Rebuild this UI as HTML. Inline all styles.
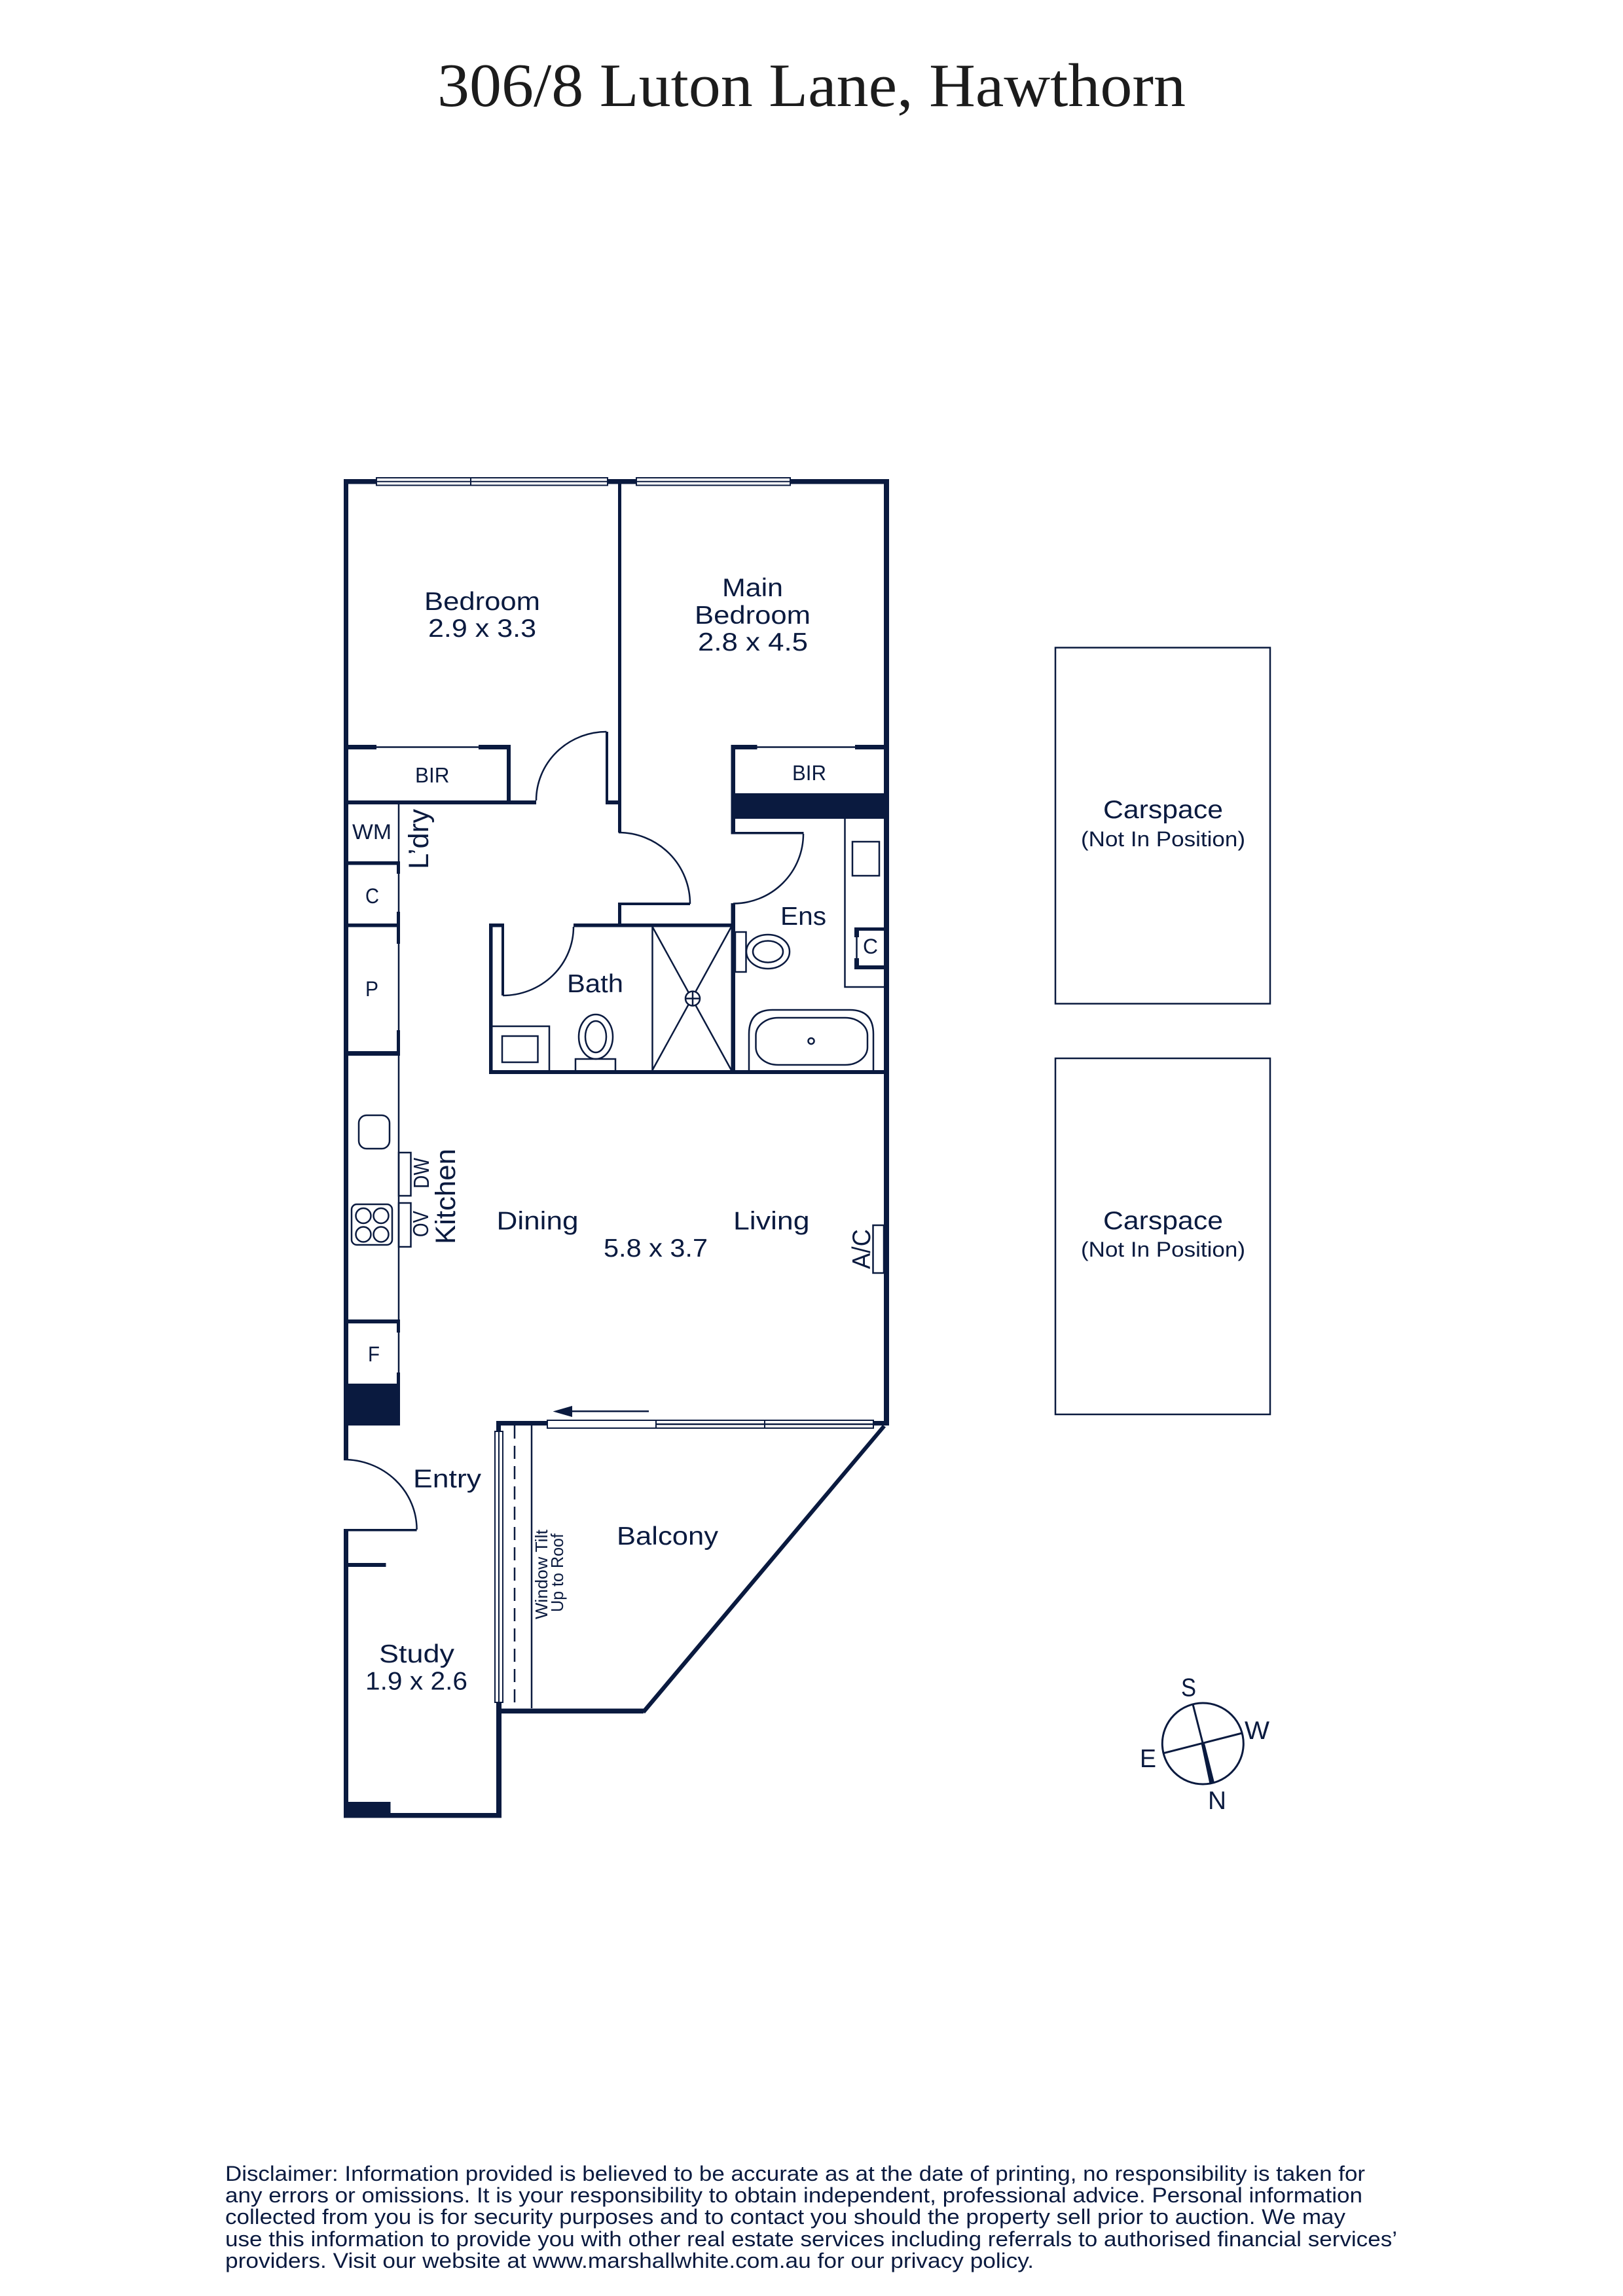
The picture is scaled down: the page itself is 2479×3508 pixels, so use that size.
<!DOCTYPE html>
<html><head><meta charset="utf-8"><style>
html,body{margin:0;padding:0;background:#fff}
svg{display:block}
text{font-family:"Liberation Sans",sans-serif;fill:#0a1a3f}
</style></head><body>
<svg width="2479" height="3508" viewBox="0 0 2479 3508" xmlns="http://www.w3.org/2000/svg">
<rect width="2479" height="3508" fill="#fff"/>
<text x="668" y="162" font-size="94" textLength="1143" lengthAdjust="spacingAndGlyphs" style='font-family:"Liberation Serif",serif;fill:#1c1c1c'>306/8 Luton Lane, Hawthorn</text>

<!-- walls (filled) -->
<g fill="#0a1a3f">
<rect x="525" y="732" width="833" height="7.5"/>
<rect x="525" y="732" width="7" height="1418"/>
<rect x="1350" y="732" width="8" height="1446"/>
<rect x="944" y="732" width="5" height="540"/>
<!-- bedroom BIR -->
<rect x="525" y="1138" width="50" height="7"/>
<rect x="731" y="1138" width="49" height="7"/>
<rect x="774" y="1138" width="6" height="91"/>
<rect x="525" y="1223" width="294" height="6"/>
<rect x="925" y="1118" width="4" height="111"/>
<rect x="925" y="1223" width="24" height="6"/>
<!-- main BIR -->
<rect x="1116.5" y="1138" width="40" height="7"/>
<rect x="1306" y="1138" width="52" height="7"/>
<rect x="1116.5" y="1138" width="6.5" height="136"/>
<rect x="1116.5" y="1212" width="241.500" height="39"/>
<rect x="1116.5" y="1271" width="111" height="3.500"/>
<!-- hall/ensuite -->
<rect x="1116.5" y="1380" width="6.500" height="261"/>
<rect x="944" y="1379" width="110" height="4"/>
<rect x="944" y="1379" width="5" height="37"/>
<rect x="876" y="1411" width="247" height="5.500"/>
<rect x="747" y="1411" width="23" height="5.500"/>
<rect x="747" y="1411" width="5.500" height="230"/>
<rect x="766" y="1411" width="4" height="110"/>
<rect x="747" y="1635" width="611" height="6"/>
<!-- ens closet -->
<rect x="1305" y="1417" width="50" height="5"/>
<rect x="1305" y="1475" width="50" height="6"/>
<rect x="1305" y="1417" width="7" height="15"/>
<rect x="1305" y="1464" width="7" height="17"/>
<!-- left cupboards -->
<rect x="525" y="1316" width="86" height="5.500"/>
<rect x="606" y="1316" width="5" height="19"/>
<rect x="525" y="1411" width="86" height="5.500"/>
<rect x="606" y="1393" width="5" height="49"/>
<rect x="525" y="1606" width="86" height="7"/>
<rect x="606" y="1574" width="5" height="39"/>
<rect x="525" y="2016" width="86" height="6"/>
<rect x="606" y="2016" width="5" height="20"/>
<rect x="606" y="2097" width="5" height="20"/>
<rect x="525" y="2114" width="86" height="64"/>
<rect x="525" y="2178" width="7" height="52"/>
<!-- balcony top -->
<rect x="758" y="2171" width="78" height="7"/>
<rect x="1334" y="2171" width="24" height="7"/>
<rect x="758" y="2171" width="7" height="16"/>
<rect x="758" y="2601" width="8" height="176.500"/>
<rect x="758" y="2610.500" width="225" height="7.500"/>
<!-- entry/study -->
<rect x="525" y="2336" width="111.600" height="3.500"/>
<rect x="525" y="2336" width="7" height="441.500"/>
<rect x="532" y="2388" width="57.500" height="6"/>
<rect x="525" y="2753" width="71.500" height="24.500"/>
<rect x="525" y="2770" width="241" height="7.500"/>
<polygon points="980,2614 1348,2177 1353,2180.500 985,2618"/>
<polygon points="844.500,2156.500 874,2148 874,2165"/>
<rect x="873" y="2155" width="118" height="2.500"/>
</g>

<g fill="none" stroke="#0a1a3f" stroke-width="2.500">
<!-- door arcs -->
<path d="M819 1223A107.500 105 0 0 1 926.500 1118"/>
<path d="M945 1272A109 109 0 0 1 1054 1381"/>
<path d="M1227 1274A107 106.500 0 0 1 1120 1380.500"/>
<path d="M876 1416A108 105 0 0 1 768 1521"/>
<path d="M525 2230A111.600 107 0 0 1 636.600 2337"/>
<!-- thin lines -->
<line x1="575" y1="1141.500" x2="731" y2="1141.500"/>
<line x1="1156" y1="1141.500" x2="1306" y2="1141.500"/>
<line x1="609" y1="1229" x2="609" y2="2114"/>
<line x1="1308.500" y1="1430" x2="1308.500" y2="1466"/>
<path d="M1290.500 1251V1508H1350"/>
<rect x="1302" y="1286" width="41" height="52"/>
<!-- shower -->
<line x1="996.500" y1="1416" x2="996.500" y2="1635"/>
<path d="M996.500 1416L1117 1635M1117 1416L996.500 1635"/>
<circle cx="1058" cy="1525.600" r="11" fill="#fff"/>
<path d="M1047 1525.600H1069M1058 1514.600V1536.600"/>
<!-- bath vanity -->
<path d="M752 1568H839V1635"/>
<rect x="767" y="1583" width="54.500" height="40"/>
<ellipse cx="910" cy="1584" rx="26" ry="34"/>
<ellipse cx="910" cy="1584" rx="16" ry="24"/>
<path d="M879 1635V1618H940V1635"/>
<!-- ens toilet -->
<rect x="1123" y="1424" width="16.500" height="61"/>
<ellipse cx="1173" cy="1454" rx="33" ry="26"/>
<ellipse cx="1173" cy="1454" rx="23" ry="16.500"/>
<!-- tub -->
<path d="M1144 1635V1580Q1144 1543 1180 1543H1298Q1334 1543 1334 1580V1635"/>
<rect x="1154.500" y="1555" width="170.500" height="72" rx="34" ry="27"/>
<circle cx="1239" cy="1590.600" r="4.500"/>
<!-- kitchen -->
<rect x="548" y="1704" width="47" height="51" rx="12"/>
<rect x="537" y="1840" width="62" height="62" rx="8"/>
<circle cx="555" cy="1857.500" r="11.500"/>
<circle cx="582" cy="1857.500" r="11.500"/>
<circle cx="555" cy="1886" r="11.500"/>
<circle cx="582" cy="1886" r="11.500"/>
<rect x="609" y="1761" width="18.500" height="66"/>
<rect x="609" y="1838" width="18.500" height="67"/>
<rect x="1333.500" y="1872" width="16.500" height="73"/>
<!-- balcony -->
<line x1="786" y1="2178" x2="786" y2="2610" stroke-dasharray="20 11"/>
<line x1="812" y1="2178" x2="812" y2="2610"/>
</g>

<!-- windows -->
<g fill="#fff" stroke="#0a1a3f" stroke-width="2">
<rect x="575" y="730" width="353" height="11.500"/>
<line x1="575" y1="735.750" x2="928" y2="735.750"/>
<line x1="719" y1="730" x2="719" y2="741.500"/>
<rect x="972" y="730" width="235" height="11.500"/>
<line x1="972" y1="735.750" x2="1207" y2="735.750"/>
<rect x="836" y="2170" width="498" height="12"/>
<line x1="1002" y1="2176" x2="1334" y2="2176" stroke-width="2.500"/>
<line x1="1002" y1="2170" x2="1002" y2="2182"/>
<line x1="1168" y1="2170" x2="1168" y2="2182"/>
<rect x="756" y="2187" width="12" height="414"/>
<line x1="762" y1="2187" x2="762" y2="2601"/>
</g>

<!-- car spaces -->
<rect x="1612" y="989.500" width="328" height="544" fill="none" stroke="#0a1a3f" stroke-width="2.500"/>
<rect x="1612" y="1617" width="328" height="544" fill="none" stroke="#0a1a3f" stroke-width="2.500"/>

<!-- labels -->
<g font-size="39">
<text x="648" y="932" textLength="177" lengthAdjust="spacingAndGlyphs">Bedroom</text>
<text x="654" y="973" textLength="165" lengthAdjust="spacingAndGlyphs">2.9 x 3.3</text>
<text x="1103" y="911" textLength="93" lengthAdjust="spacingAndGlyphs">Main</text>
<text x="1061" y="953" textLength="177" lengthAdjust="spacingAndGlyphs">Bedroom</text>
<text x="1066" y="994" textLength="168" lengthAdjust="spacingAndGlyphs">2.8 x 4.5</text>
<text x="866" y="1516" textLength="86" lengthAdjust="spacingAndGlyphs">Bath</text>
<text x="1192" y="1413" textLength="70" lengthAdjust="spacingAndGlyphs">Ens</text>
<text x="758.500" y="1878.600" textLength="125" lengthAdjust="spacingAndGlyphs">Dining</text>
<text x="1120" y="1878.600" textLength="116.500" lengthAdjust="spacingAndGlyphs">Living</text>
<text x="922" y="1920" textLength="159" lengthAdjust="spacingAndGlyphs">5.8 x 3.7</text>
<text x="631" y="2272.700" textLength="104" lengthAdjust="spacingAndGlyphs">Entry</text>
<text x="942" y="2360" textLength="155" lengthAdjust="spacingAndGlyphs">Balcony</text>
<text x="579" y="2540" textLength="115" lengthAdjust="spacingAndGlyphs">Study</text>
<text x="558" y="2581.500" textLength="156" lengthAdjust="spacingAndGlyphs">1.9 x 2.6</text>
<text x="1685" y="1250" textLength="183" lengthAdjust="spacingAndGlyphs">Carspace</text>
<text x="1685" y="1878" textLength="183" lengthAdjust="spacingAndGlyphs">Carspace</text>
<text x="1804" y="2591.700" textLength="23" lengthAdjust="spacingAndGlyphs">S</text>
<text x="1901" y="2657" textLength="38" lengthAdjust="spacingAndGlyphs">W</text>
<text x="1741" y="2700" textLength="25" lengthAdjust="spacingAndGlyphs">E</text>
<text x="1845" y="2764" textLength="28" lengthAdjust="spacingAndGlyphs">N</text>
</g>
<g font-size="32">
<text x="634" y="1195.500" textLength="52.500" lengthAdjust="spacingAndGlyphs">BIR</text>
<text x="1210" y="1192" textLength="52" lengthAdjust="spacingAndGlyphs">BIR</text>
<text x="538" y="1282" textLength="60" lengthAdjust="spacingAndGlyphs">WM</text>
<text x="558" y="1380" textLength="21" lengthAdjust="spacingAndGlyphs">C</text>
<text x="558" y="1522" textLength="20" lengthAdjust="spacingAndGlyphs">P</text>
<text x="562" y="2080" textLength="18" lengthAdjust="spacingAndGlyphs">F</text>
<text x="1318" y="1457" textLength="23" lengthAdjust="spacingAndGlyphs">C</text>
<text x="1651" y="1293" textLength="251" lengthAdjust="spacingAndGlyphs">(Not In Position)</text>
<text x="1651" y="1920" textLength="251" lengthAdjust="spacingAndGlyphs">(Not In Position)</text>
</g>
<!-- rotated -->
<text transform="translate(654,1328) rotate(-90)" font-size="43" textLength="92" lengthAdjust="spacingAndGlyphs">L’dry</text>
<text transform="translate(695,1901) rotate(-90)" font-size="43" textLength="146" lengthAdjust="spacingAndGlyphs">Kitchen</text>
<text transform="translate(655,1816) rotate(-90)" font-size="33" textLength="47" lengthAdjust="spacingAndGlyphs">DW</text>
<text transform="translate(654,1890) rotate(-90)" font-size="33" textLength="40" lengthAdjust="spacingAndGlyphs">OV</text>
<text transform="translate(1329,1939) rotate(-90)" font-size="39" textLength="61" lengthAdjust="spacingAndGlyphs">A/C</text>
<text transform="translate(836,2474) rotate(-90)" font-size="26" textLength="137" lengthAdjust="spacingAndGlyphs">Window Tilt</text>
<text transform="translate(860,2463) rotate(-90)" font-size="26" textLength="120" lengthAdjust="spacingAndGlyphs">Up to Roof</text>

<!-- compass -->
<circle cx="1837.300" cy="2664" r="62" fill="none" stroke="#0a1a3f" stroke-width="3"/>
<line x1="1821.700" y1="2602.700" x2="1837.300" y2="2664" stroke="#0a1a3f" stroke-width="3"/>
<line x1="1777" y1="2678.700" x2="1897" y2="2648" stroke="#0a1a3f" stroke-width="3"/>
<polygon points="1834.800,2665 1840,2663.500 1855,2723.500 1847.500,2725.500" fill="#0a1a3f"/>

<!-- disclaimer -->
<g font-size="32">
<text x="344" y="3332" textLength="1741" lengthAdjust="spacingAndGlyphs">Disclaimer: Information provided is believed to be accurate as at the date of printing, no responsibility is taken for</text>
<text x="344" y="3365" textLength="1737" lengthAdjust="spacingAndGlyphs">any errors or omissions. It is your responsibility to obtain independent, professional advice. Personal information</text>
<text x="344" y="3398" textLength="1711" lengthAdjust="spacingAndGlyphs">collected from you is for security purposes and to contact you should the property sell prior to auction. We may</text>
<text x="344" y="3432" textLength="1790" lengthAdjust="spacingAndGlyphs">use this information to provide you with other real estate services including referrals to authorised financial services’</text>
<text x="344" y="3465" textLength="1235" lengthAdjust="spacingAndGlyphs">providers. Visit our website at www.marshallwhite.com.au for our privacy policy.</text>
</g>
</svg>
</body></html>
